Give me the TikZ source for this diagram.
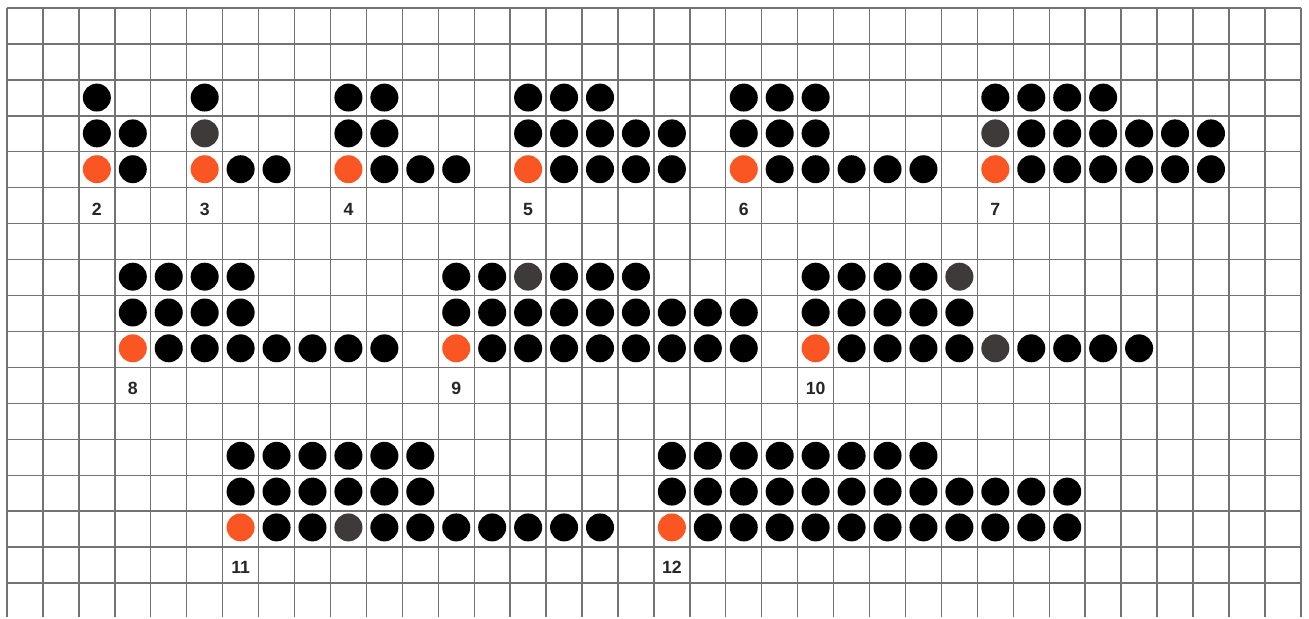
\documentclass[tikz,border=0pt]{standalone}
\usepackage{xcolor}
\usepackage{tikz}
\usepackage{fontspec}
\setsansfont{Liberation Sans}

\definecolor{dotorange}{RGB}{250,86,36}
\definecolor{dotgrey}{RGB}{62,58,58}

\tikzset{
  gridline/.style={line width=1.1pt, black!55},
  blackdot/.style={fill=black},
  orangedot/.style={fill=dotorange},
  greydot/.style={fill=dotgrey},
  numlabel/.style={font=\sffamily\bfseries\fontsize{14}{16}\selectfont, text=black!85, inner sep=0pt}
}

\begin{document}
\begin{tikzpicture}[x=1cm,y=-0.9967cm]
				\useasboundingbox (-0.195,-0.2234) rectangle (36.228,17.056);
				\fill[white] (-0.195,-0.2234) rectangle (36.228,17.056);
				\draw[gridline] (0,0) grid (36,17);
				
				% black dots: row/first column/last column
				\foreach \r/\a/\b in {2/2/2, 3/2/3, 4/3/3,
				                      2/5/5, 4/6/7,
				                      2/9/10, 3/9/10, 4/10/12,
				                      2/14/16, 3/14/18, 4/15/18,
				                      2/20/22, 3/20/22, 4/21/25,
				                      2/27/30, 3/28/33, 4/28/33,
				                      7/3/6, 8/3/6, 9/4/10,
				                      7/12/13, 7/15/17, 8/12/20, 9/13/20,
				                      7/22/25, 8/22/26, 9/23/26, 9/28/31,
				                      12/6/11, 13/6/11, 14/7/8, 14/10/16,
				                      12/18/25, 13/18/29, 14/19/29}
				  \foreach \c in {\a,...,\b}
				    \fill[blackdot] (\c+0.5,\r+0.5) circle (0.39);
				
				% grey dots
				\foreach \c/\r in {5/3, 27/3, 14/7, 26/7, 27/9, 9/14}
				  \fill[greydot] (\c+0.5,\r+0.5) circle (0.39);
				
				% orange dots and numbers
				\foreach \c/\r/\n in {2/4/2, 5/4/3, 9/4/4, 14/4/5, 20/4/6, 27/4/7,
				                      3/9/8, 12/9/9, 22/9/10,
				                      6/14/11, 18/14/12} {
				  \fill[orangedot] (\c+0.5,\r+0.5) circle (0.39);
				  \node[numlabel] (num\n) at (\c+0.5,\r+1.62) {\n};
				}
			\end{tikzpicture}
\end{document}
